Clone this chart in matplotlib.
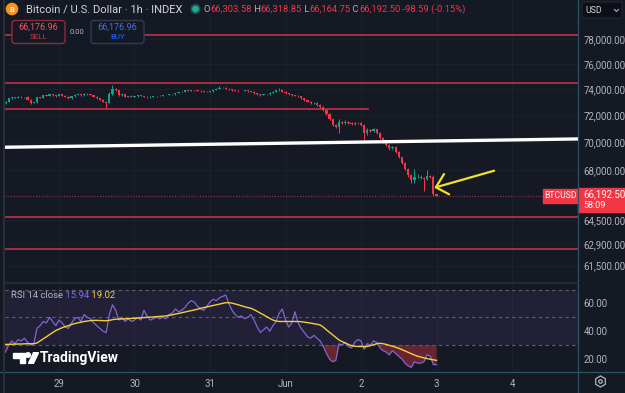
import numpy as np
import matplotlib
matplotlib.use("Agg")
import matplotlib.pyplot as plt
from matplotlib.patches import Rectangle, FancyBboxPatch, Circle, Polygon
from matplotlib.ticker import NullLocator

plt.rcParams['font.family'] = ['Roboto', 'DejaVu Sans']

# ---------------- data ----------------
first_hour = -17          # hours relative to 29 May 00:00
first_open = 72950
closes = [
    73050, 73300, 73380, 73340, 73420, 73380, 73400, 73200, 72950, 73000,
    73380, 73350, 73520, 73480, 73600, 73550, 73470, 73600, 73500, 73420,
    73300, 73450, 73580, 73620, 73540, 73650, 73600, 73560, 73420, 73300,
    73180, 73050, 72950, 73650, 74050, 73900, 73550, 73600, 73420, 73480,
    73400, 73450, 73520, 73480, 73420, 73360, 73400, 73450, 73480, 73500,
    73550, 73560, 73600, 73620, 73700, 73780, 73820, 73900, 73880, 73920,
    73900, 73870, 73850, 73820, 73800, 73850, 73950, 74050, 74120, 74100,
    74050, 73980, 73920, 73880, 73850, 73870, 73900, 73850, 73800, 73700,
    73620, 73560, 73600, 73620, 73700, 73800, 73900, 73950, 73820, 73700,
    73600, 73520, 73500, 73450, 73300, 73150, 73050, 72900, 72950, 72800,
    72650, 72400, 72100, 71700, 71300, 71150, 71500, 71420, 71500, 71430,
    71380, 71450, 71420, 71300, 70700, 70900, 70850, 70950, 70700, 70300,
    70050, 69800, 69550, 69650, 69300, 68900, 68500, 68050, 67600, 67250,
    67480, 67520, 67420, 67380, 67550, 67500, 66303.58, 66192.50,
]
upper_wick = [
    40, 30, 50, 30, 40, 30, 30, 40, 60, 50,
    30, 40, 60, 30, 50, 40, 30, 40, 30, 40,
    50, 30, 40, 50, 30, 60, 40, 30, 30, 40,
    30, 40, 30, 120, 250, 80, 50, 40, 40, 30,
    40, 30, 30, 40, 30, 30, 40, 30, 20, 30,
    30, 20, 30, 30, 40, 30, 30, 60, 40, 30,
    30, 20, 30, 20, 30, 40, 50, 60, 100, 50,
    40, 30, 30, 20, 30, 20, 30, 30, 20, 30,
    30, 40, 30, 40, 50, 40, 60, 180, 60, 40,
    40, 30, 30, 30, 40, 30, 30, 60, 30, 40,
    40, 50, 60, 50, 60, 80, 200, 60, 120, 60,
    60, 80, 50, 60, 80, 120, 80, 100, 60, 60,
    60, 50, 50, 80, 60, 60, 50, 60, 60, 80,
    550, 150, 100, 80, 450, 100, 160, 15.27,
]
lower_wick = [
    60, 40, 30, 40, 30, 40, 50, 40, 80, 40,
    30, 50, 30, 40, 30, 40, 50, 30, 40, 50,
    40, 50, 30, 30, 40, 30, 30, 40, 50, 40,
    40, 50, 400, 50, 60, 50, 80, 40, 40, 30,
    30, 40, 30, 20, 40, 40, 30, 30, 20, 30,
    20, 30, 20, 30, 30, 20, 20, 30, 40, 30,
    20, 30, 30, 20, 30, 30, 30, 20, 40, 30,
    30, 30, 30, 20, 30, 20, 30, 30, 40, 40,
    40, 50, 30, 30, 30, 30, 40, 50, 40, 50,
    40, 30, 40, 50, 60, 40, 60, 40, 50, 60,
    60, 60, 80, 80, 100, 120, 450, 80, 60, 70,
    80, 70, 60, 80, 530, 150, 90, 80, 80, 60,
    80, 70, 90, 60, 70, 80, 60, 80, 100, 150,
    150, 80, 100, 850, 100, 90, 120, 27.75,
]
rsi = [
    25, 30, 33, 31, 34, 33, 35, 32, 30, 31,
    42, 44, 47, 46, 50, 47, 44, 48, 46, 43,
    42, 46, 49, 50, 47, 52, 50, 49, 46, 44,
    42, 40, 39, 52, 59, 55, 48, 50, 47, 49,
    47, 48, 50, 48, 55, 51, 48, 49, 50, 49,
    50, 49, 52, 53, 56, 54, 55, 57, 60, 62,
    61, 58, 56, 55, 58, 61, 63, 62, 64, 65,
    66, 60, 55, 52, 50, 51, 49, 50, 52, 48,
    43, 39, 41, 43, 40, 44, 47, 53, 56, 48,
    43, 46, 54, 46, 42, 39, 36, 35, 37, 35,
    33, 29, 24, 20, 18, 19, 31, 30, 32, 29,
    28, 32, 34, 33, 27, 31, 30, 33, 32, 28,
    26, 25, 23, 26, 24, 22, 20, 17, 15, 14,
    18, 17, 17, 18, 23, 22, 16, 15.94,
]
rsi_ma = [
    30.5, 30.5, 30.6, 30.7, 30.8, 30.8, 30.9, 31.0, 31.0, 31.0,
    31.5, 33.0, 34.5, 36.0, 37.5, 39.0, 40.5, 41.5, 42.5, 43.3,
    44.0, 44.8, 45.5, 46.0, 46.5, 47.0, 47.3, 47.6, 47.8, 47.8,
    47.7, 47.6, 47.5, 47.8, 48.3, 48.6, 48.7, 48.8, 48.9, 49.0,
    49.2, 49.3, 49.5, 49.6, 49.8, 50.0, 50.1, 50.3, 50.5, 50.6,
    50.8, 51.0, 51.4, 51.8, 52.3, 52.8, 53.3, 53.8, 54.3, 54.8,
    55.3, 55.8, 56.5, 57.0, 57.5, 58.0, 58.5, 59.0, 59.5, 60.0,
    60.5, 60.5, 60.2, 59.6, 59.0, 58.3, 57.6, 57.0, 56.5, 55.5,
    54.3, 53.0, 51.8, 50.5, 49.2, 48.0, 47.3, 47.0, 47.0, 47.0,
    47.0, 47.0, 47.0, 47.0, 46.8, 46.5, 46.2, 45.8, 45.4, 45.0,
    44.5, 43.0, 41.0, 39.2, 37.5, 35.5, 33.7, 32.5, 31.5, 30.5,
    29.6, 29.2, 29.0, 29.0, 28.9, 29.0, 29.6, 30.3, 31.0, 31.3,
    31.0, 30.5, 29.8, 29.2, 28.5, 27.7, 26.8, 25.8, 24.8, 23.8,
    22.8, 22.0, 21.4, 20.8, 20.3, 19.8, 19.4, 19.02,
]

price_ticks = [61500, 62900, 64500, 68000, 70000, 72000, 74000, 76000, 78000]
rsi_ticks = [20, 40, 60]
rsi_levels = [30, 50, 70]
day_ticks = [0, 24, 48, 72, 96, 120, 144]
day_labels = ['29', '30', '31', 'Jun', '2', '3', '4']

red_levels = [78300, 74506, 64716, 62587]
short_level_price = 72458
short_level_end = 98.2
white_line_x = [-17.5, 165]
white_line_y = [69630, 70240]
arrow_shaft = ([138.3, 119.8], [67938, 66768])
arrow_head = ([122.4, 119.8, 124.0], [67703, 66768, 66277])
last_price = 66192.50

# ---------------- layout helpers ----------------
W, H = 625, 393
BG = '#151924'
fig = plt.figure(figsize=(W / 100, H / 100), dpi=100, facecolor=BG)

def fbox(x0, y0, x1, y1):
    return [x0 / W, 1 - y1 / H, (x1 - x0) / W, (y1 - y0) / H]

ax = fig.add_axes(fbox(4.5, 0, 578, 282))
axr = fig.add_axes(fbox(4.5, 284, 578, 371))
for a in (ax, axr):
    a.set_facecolor(BG)
    for s in a.spines.values():
        s.set_visible(False)

GRID = '#1d212c'
TXT = '#B2B5BE'
UP, DN = '#12A08A', '#F23645'

# ---------------- main pane ----------------
n = len(closes)
hours = np.arange(n) + first_hour
c = np.array(closes, dtype=float)
o = np.concatenate([[first_open], c[:-1]])
hi = np.maximum(o, c) + np.array(upper_wick)
lo = np.minimum(o, c) - np.array(lower_wick)
cols = np.where(c >= o, UP, DN)

ax.set_yscale('log')
ax.set_ylim(60456, 81256)
ax.set_xlim(-17.32, 164.97)
ax.yaxis.set_minor_locator(NullLocator())
ax.set_yticks(price_ticks)
ax.set_yticklabels([f"{v:,.2f}" for v in price_ticks])
ax.yaxis.tick_right()
ax.tick_params(axis='y', length=0, pad=4, labelcolor=TXT, labelsize=6.9)
ax.set_xticks(day_ticks)
ax.tick_params(axis='x', length=0, labelbottom=False)
ax.grid(True, color=GRID, lw=0.7)
ax.set_axisbelow(True)

ax.vlines(hours, lo, hi, colors=cols, lw=0.75, zorder=3)
ax.bar(hours, np.abs(c - o), bottom=np.minimum(o, c), width=0.7,
       color=cols, zorder=4, linewidth=0)

for lv in red_levels:
    ax.axhline(lv, color='#C23248', lw=1.2, zorder=2)
ax.plot([-17.32, short_level_end], [short_level_price] * 2, color='#C23248', lw=1.2, zorder=2)
ax.plot(white_line_x, white_line_y, color='white', lw=2.4, zorder=5, solid_capstyle='butt')
ax.plot([-17.32, 153.7], [last_price] * 2, color='#8a3a48', lw=0.8,
        ls=(0, (1, 1.5)), zorder=2)
ax.plot(*arrow_shaft, color='#F5E02A', lw=1.6, zorder=6, solid_capstyle='round')
ax.plot(*arrow_head, color='#F5E02A', lw=1.6, zorder=6, solid_capstyle='round',
        solid_joinstyle='round')

# ---------------- RSI pane ----------------
r = np.array(rsi, dtype=float)
axr.set_xlim(-17.32, 164.97)
axr.set_ylim(11.37, 73.96)
axr.axhspan(30, 70, color='#7E57C2', alpha=0.12, lw=0)
for lv in rsi_levels:
    axr.axhline(lv, color='#5d6070', lw=0.8, ls=(0, (3, 3)))
axr.fill_between(hours, r, 30, where=r < 30, interpolate=True,
                 color='#F23645', alpha=0.38, lw=0)
axr.plot(hours, r, color='#8066D0', lw=0.9)
axr.plot(hours, rsi_ma, color='#F2CF3D', lw=1.0)
axr.set_yticks(rsi_ticks)
axr.set_yticklabels([f"{v:.2f}" for v in rsi_ticks])
axr.yaxis.tick_right()
axr.tick_params(axis='y', length=0, pad=4, labelcolor=TXT, labelsize=6.9)
axr.set_xticks(day_ticks)
axr.set_xticklabels(day_labels)
axr.tick_params(axis='x', length=0, pad=5.5, labelcolor=TXT, labelsize=6.9)
axr.grid(True, axis='x', color=GRID, lw=0.7)
axr.set_axisbelow(True)

# ---------------- overlay (pixel coordinates) ----------------
ov = fig.add_axes([0, 0, 1, 1])
ov.set_xlim(0, W)
ov.set_ylim(H, 0)
ov.axis('off')
ov.patch.set_alpha(0)

SEP = '#2c5366'
ov.plot([578, 578], [0, H], color=SEP, lw=0.9)
ov.plot([0, W], [372, 372], color=SEP, lw=0.9)
ov.plot([4.5, 578], [283, 283], color='#2a2e39', lw=1.2)
ov.plot([3.5, 3.5], [0, H], color='#2a2e39', lw=1.5)

# header
ov.add_patch(Circle((12, 9), 5.6, color='#F7931A', zorder=5))
ov.text(12, 9.4, 'B', color='white', fontsize=5.5, weight='bold', ha='center', va='center', zorder=6)
ov.text(26, 9.5, 'Bitcoin / U.S. Dollar · 1h · INDEX', color='#D1D4DC', fontsize=8, va='center')
ov.add_patch(Circle((195.5, 9), 4.5, color='#22AB94', alpha=0.3))
ov.add_patch(Circle((195.5, 9), 2.6, color='#22AB94'))

RED = '#F23645'
pieces = [('O', TXT), ('66,303.58', RED), (' H', TXT), ('66,318.85', RED),
          (' L', TXT), ('66,164.75', RED), (' C', TXT), ('66,192.50', RED),
          (' -98.59 (-0.15%)', RED)]
prev = ov.text(204, 9.5, pieces[0][0], color=pieces[0][1], fontsize=6.75, va='center')
for s, col in pieces[1:]:
    prev = ov.annotate(s, xy=(1, 0), xycoords=prev, va='bottom', ha='left',
                       color=col, fontsize=6.75)

# sell / buy widget
ov.add_patch(Rectangle((64, 22), 28, 20, color=BG, zorder=3))
ov.add_patch(FancyBboxPatch((12, 20.5), 53, 23, boxstyle='round,pad=0,rounding_size=3',
                            fc=BG, ec='#8E2A38', lw=1, zorder=4))
ov.text(38.5, 27, '66,176.96', color='#F7525F', fontsize=6.5, ha='center', va='center', zorder=5)
ov.text(38.5, 37, 'SELL', color='#C83A4A', fontsize=5.8, ha='center', va='center', zorder=5)
ov.text(77.5, 32, '0.00', color=TXT, fontsize=5.5, ha='center', va='center', zorder=5)
ov.add_patch(FancyBboxPatch((91, 20.5), 53, 23, boxstyle='round,pad=0,rounding_size=3',
                            fc=BG, ec='#2f3a55', lw=1, zorder=4))
ov.text(117.5, 27, '66,176.96', color='#3D6FE8', fontsize=6.5, ha='center', va='center', zorder=5)
ov.text(117.5, 37, 'BUY', color='#2962FF', fontsize=5.8, ha='center', va='center', zorder=5)

# USD box
ov.add_patch(FancyBboxPatch((582, 2), 40, 16, boxstyle='round,pad=0,rounding_size=2',
                            fc='#0d0f16', ec='#242833', lw=0.8))
ov.text(585, 10.5, 'USD', color='#D1D4DC', fontsize=6.3, va='center')
ov.plot([614.5, 616.5, 618.5], [9.5, 11.5, 9.5], color=TXT, lw=0.8)

# last price labels
ov.add_patch(Rectangle((543, 189), 35, 13.5, color='#F23645'))
ov.text(560.5, 196, 'BTCUSD', color='white', fontsize=6.2, ha='center', va='center')
ov.add_patch(Rectangle((578, 188), 47, 23.5, color='#F23645'))
ov.text(583, 194.5, '66,192.50', color='white', fontsize=6.9, va='center')
ov.text(583, 205, '58:09', color='white', fontsize=6.5, va='center')

# RSI legend
prev = ov.text(11, 296, 'RSI 14 close', color=TXT, fontsize=6.8, va='center')
for s, col in [(' 15.94', '#7E6FE0'), (' 19.02', '#F2CF3D')]:
    prev = ov.annotate(s, xy=(1, 0), xycoords=prev, va='bottom', ha='left',
                       color=col, fontsize=6.8)

# TradingView watermark
ov.add_patch(Polygon([(13, 352.7), (24.5, 352.7), (24.5, 363.3), (19.5, 363.3),
                      (19.5, 357.5), (13, 357.5)], closed=True, color='white'))
ov.add_patch(Circle((28, 355), 2.3, color='white'))
ov.add_patch(Polygon([(28.5, 363.3), (33.5, 352.7), (38.5, 352.7), (33.5, 363.3)],
                     closed=True, color='white'))
ov.text(40, 357.8, 'TradingView', color='white', fontsize=10, weight='semibold', va='center')

# settings icon
ov.plot(600, 381, marker='h', ms=8, mfc='none', mec=TXT, mew=0.9)
ov.plot(600, 381, marker='o', ms=2.5, mfc='none', mec=TXT, mew=0.9)

fig.savefig('out.png', dpi=100, facecolor=BG)
